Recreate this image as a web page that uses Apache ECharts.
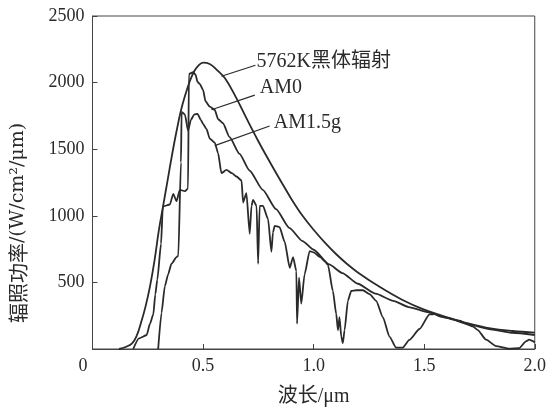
<!DOCTYPE html>
<html>
<head>
<meta charset="utf-8">
<script src="https://cdn.jsdelivr.net/npm/echarts@6/dist/echarts.min.js"></script>
<style>
html, body { margin: 0; padding: 0; background: #fff; }
#main { width: 549px; height: 412px; }
</style>
</head>
<body>
<div id="main"></div>
<script>
// 数据
var blackbody = [[0.12,0],[0.15,15],[0.18,45],[0.20,100],[0.22,200],[0.24,320],[0.26,470],[0.28,660],[0.30,890],[0.32,1080],[0.34,1270],[0.36,1460],[0.38,1635],[0.40,1790],[0.42,1910],[0.44,2010],[0.46,2085],[0.48,2130],[0.50,2150],[0.53,2140],[0.56,2100],[0.60,2030],[0.65,1885],[0.70,1720],[0.75,1560],[0.80,1410],[0.85,1265],[0.90,1125],[0.95,1000],[1.0,895],[1.05,800],[1.10,715],[1.15,640],[1.2,575],[1.3,465],[1.4,370],[1.5,295],[1.6,240],[1.7,192],[1.8,155],[1.9,135],[2.0,123]];

var am0 = [[0.184,0],[0.21,80],[0.245,105],[0.26,190],[0.275,260],[0.284,410],[0.293,520],[0.31,790],[0.318,1070],[0.35,1085],[0.365,1165],[0.38,1110],[0.395,1195],[0.418,1185],[0.432,1205],[0.436,2065],[0.455,2078],[0.466,2060],[0.475,2005],[0.485,1990],[0.50,1945],[0.511,1860],[0.53,1820],[0.553,1795],[0.568,1725],[0.59,1695],[0.62,1590],[0.665,1465],[0.71,1340],[0.77,1195],[0.83,1050],[0.89,910],[0.95,810],[1.0,745],[1.07,635],[1.13,570],[1.2,490],[1.28,415],[1.36,362],[1.43,315],[1.52,275],[1.6,235],[1.7,185],[1.8,148],[1.9,122],[2.0,105]];

var am15g = [[0.297,0],[0.312,270],[0.327,470],[0.342,560],[0.357,640],[0.38,690],[0.388,700],[0.40,1400],[0.403,1780],[0.418,1760],[0.432,1640],[0.445,1720],[0.46,1760],[0.475,1765],[0.49,1720],[0.50,1690],[0.516,1650],[0.53,1580],[0.553,1550],[0.568,1470],[0.583,1320],[0.606,1345],[0.63,1320],[0.651,1295],[0.674,1265],[0.681,1100],[0.696,1170],[0.711,865],[0.719,1075],[0.726,1120],[0.742,1075],[0.749,640],[0.756,1075],[0.771,1075],[0.794,975],[0.809,730],[0.816,875],[0.824,925],[0.846,915],[0.869,805],[0.892,610],[0.907,690],[0.922,585],[0.925,190],[0.934,535],[0.944,340],[0.959,560],[0.982,735],[1.0,725],[1.03,690],[1.05,660],[1.065,630],[1.087,436],[1.102,265],[1.11,142],[1.117,240],[1.125,93],[1.132,44],[1.14,142],[1.155,362],[1.17,436],[1.193,441],[1.223,441],[1.253,412],[1.283,362],[1.313,240],[1.343,93],[1.373,10],[1.403,10],[1.433,68],[1.479,150],[1.524,260],[1.55,262],[1.57,245],[1.59,240],[1.62,225],[1.66,212],[1.70,182],[1.72,170],[1.742,142],[1.78,70],[1.825,22],[1.885,2],[1.93,7],[1.96,57],[1.975,70],[2.0,50]];

var xTicks = [0, 0.5, 1.0, 1.5, 2.0];
var yTicks = [0, 500, 1000, 1500, 2000, 2500];

// 标注: 文字位置, 引线起点, 引线终点
var labelNames = ['5762K黑体辐射', 'AM0', 'AM1.5g'];
var labelPos = [[0.737, 2154], [0.752, 1962], [0.815, 1698]];
var leaderFrom = [[0.737, 2130], [0.734, 1906], [0.801, 1674]];
var leaderTo = [[0.583, 2048], [0.538, 1796], [0.553, 1527]];

var FONT = '"Liberation Serif", "Noto Sans CJK SC", serif';
var INK = '#2a2a2a';

var myChart = echarts.init(document.getElementById('main'));

var lineStyle = { color: INK, width: 1.8 };
var option = {
    animation: false,
    grid: { left: 92.5, right: 13.5, top: 16, bottom: 56, show: true, borderColor: '#444', borderWidth: 1 },
    xAxis: {
        type: 'value', min: xTicks[0], max: xTicks[xTicks.length - 1], interval: 0.5,
        name: '波长/μm', nameLocation: 'middle', nameGap: 38,
        nameTextStyle: { fontFamily: FONT, fontSize: 20, color: INK },
        axisLine: { lineStyle: { color: '#444' } },
        axisTick: { inside: true, length: 5, lineStyle: { color: '#444' } },
        axisLabel: {
            fontFamily: FONT, fontSize: 18, color: INK, margin: 8,
            // 原点的 "0" 偏左放置
            formatter: function (v) { return v === 0 ? '{z|0}' : v.toFixed(1); },
            rich: { z: { fontFamily: FONT, fontSize: 18, color: INK, padding: [0, 19, 0, 0] } }
        },
        splitLine: { show: false }
    },
    yAxis: {
        type: 'value', min: yTicks[0], max: yTicks[yTicks.length - 1], interval: 500,
        axisLine: { show: true, lineStyle: { color: '#444' } },
        axisTick: { show: true, inside: true, length: 5, lineStyle: { color: '#444' } },
        axisLabel: {
            showMinLabel: false, fontFamily: FONT, fontSize: 18, color: INK, margin: 8,
            formatter: function (v) { return String(v); }
        },
        splitLine: { show: false }
    },
    series: [
        { name: '5762K黑体辐射', type: 'line', data: blackbody, showSymbol: false, smooth: 0.4, lineStyle: lineStyle },
        { name: 'AM0', type: 'line', data: am0, showSymbol: false, smooth: 0.2, smoothMonotone: 'x', lineStyle: lineStyle },
        { name: 'AM1.5g', type: 'line', data: am15g, showSymbol: false, smooth: 0.2, smoothMonotone: 'x', lineStyle: lineStyle }
    ]
};
myChart.setOption(option);

// 标注文字和引线
var elements = [];
for (var i = 0; i < labelNames.length; i++) {
    var p = myChart.convertToPixel({ gridIndex: 0 }, labelPos[i]);
    var a = myChart.convertToPixel({ gridIndex: 0 }, leaderFrom[i]);
    var b = myChart.convertToPixel({ gridIndex: 0 }, leaderTo[i]);
    elements.push({
        type: 'line', silent: true,
        shape: { x1: a[0], y1: a[1], x2: b[0], y2: b[1] },
        style: { stroke: INK, lineWidth: 1.2 }
    });
    elements.push({
        type: 'text', silent: true, x: p[0] + 1, y: p[1],
        style: { text: labelNames[i], fontFamily: FONT, fontSize: 20, fill: INK, verticalAlign: 'middle', align: 'left' }
    });
}
// y 轴名称
elements.push({
    type: 'text', silent: true, x: 18, y: 223, rotation: Math.PI / 2,
    style: {
        text: '{c|辐照功率}{l|/(W/cm²/μm)}', align: 'center', verticalAlign: 'middle',
        rich: {
            c: { fontFamily: '"Noto Sans CJK SC"', fontSize: 20, fill: INK },
            l: { fontFamily: '"DejaVu Serif", serif', fontSize: 19, fill: INK }
        }
    }
});
myChart.setOption({ graphic: { elements: elements } });
</script>
</body>
</html>
